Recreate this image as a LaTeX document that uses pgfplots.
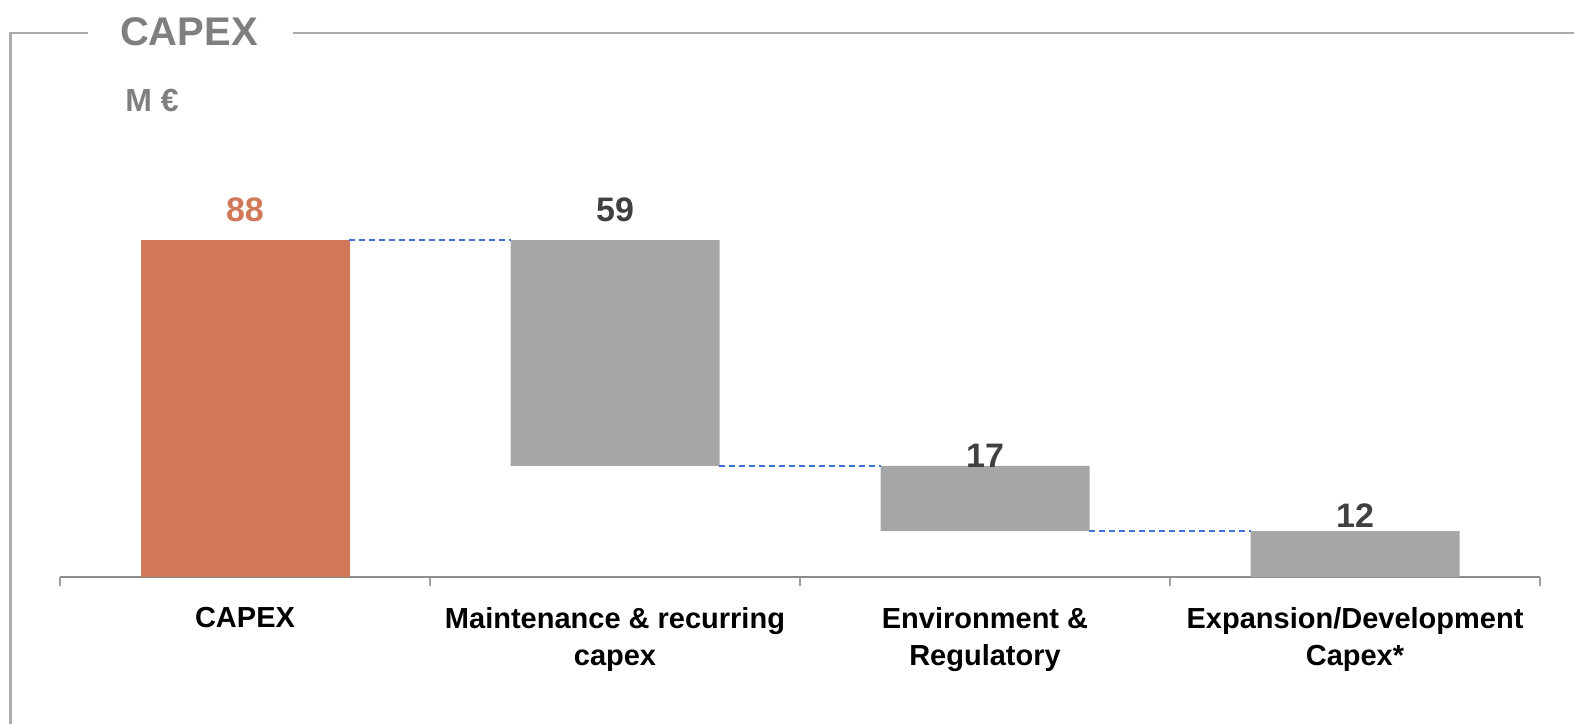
\documentclass[border=0pt]{standalone}
\usepackage{pgfplots}
\pgfplotsset{compat=1.18}
\usepackage{fontspec}
\setmainfont{Liberation Sans}
\definecolor{barorange}{HTML}{D07858}
\definecolor{bargray}{HTML}{A6A6A6}
\definecolor{framegray}{HTML}{ABABAB}
\definecolor{titlegray}{HTML}{7F7F7F}
\definecolor{labelgray}{HTML}{404040}
\definecolor{connblue}{HTML}{3F73D6}
\definecolor{axisgray}{HTML}{8C8C8C}
\definecolor{tickgray}{HTML}{A0A0A0}
\begin{document}
\begin{tikzpicture}
\useasboundingbox (0,0) rectangle (787pt,-361.5pt);
\draw[framegray, line width=1.3pt] (44pt,-16.5pt) -- (5.25pt,-16.5pt) -- (5.25pt,-362pt);
\draw[framegray, line width=1.3pt] (146.5pt,-16.5pt) -- (788pt,-16.5pt);
\node[anchor=center, text=titlegray, font=\fontsize{20}{24}\selectfont\bfseries] at (94.5pt,-15.75pt) {CAPEX};
\node[anchor=west, inner sep=0pt, text=titlegray, font=\fontsize{16}{19}\selectfont\bfseries] at (62.5pt,-50.25pt) {M €};

\pgfplotsset{commonaxis/.style={at={(30pt,-288.5pt)}, anchor=south west, scale only axis,
  width=740pt, height=168.5pt, xmin=-0.5, xmax=3.5, ymin=0, ymax=88, clip=false}}

\begin{axis}[commonaxis, ybar stacked, bar width=104.5pt,
  axis y line=none, axis x line*=bottom,
  x axis line style={draw=axisgray, line width=1pt},
  xtick={0,1,2,3},
  xticklabels={CAPEX,{Maintenance \& recurring\\capex},{Environment \&\\Regulatory},{Expansion/Development\\Capex*}},
  major tick length=0pt,
  minor xtick={-0.5,0.5,1.5,2.5,3.5},
  minor tick length=4.5pt, tick align=outside,
  minor tick style={draw=tickgray, line width=0.6pt},
  xticklabel style={align=center, text=black, yshift=-11.5pt,
    font=\fontsize{14.5}{18.5}\selectfont\bfseries}]
\addplot[draw=none, fill=none] coordinates {(0,0) (1,29) (2,12) (3,0)};
\addplot[draw=none, fill=barorange] coordinates {(0,88) (1,0) (2,0) (3,0)};
\addplot[draw=none, fill=bargray] coordinates {(0,0) (1,59) (2,17) (3,12)};
\end{axis}

\begin{axis}[commonaxis, hide axis]
\addplot[connblue, line width=0.7pt, dash pattern=on 3pt off 2pt] coordinates {(0.2824,88) (0.7176,88)};
\addplot[connblue, line width=0.7pt, dash pattern=on 3pt off 2pt] coordinates {(1.2824,29) (1.7176,29)};
\addplot[connblue, line width=0.7pt, dash pattern=on 3pt off 2pt] coordinates {(2.2824,12) (2.7176,12)};
\addplot[draw=none, mark=none, nodes near coords, point meta=explicit symbolic,
  nodes near coords style={anchor=center, text=barorange, font=\fontsize{17}{20}\selectfont\bfseries}]
  coordinates {(0,95.97)[88]};
\addplot[draw=none, mark=none, nodes near coords, point meta=explicit symbolic,
  nodes near coords style={anchor=center, text=labelgray, font=\fontsize{17}{20}\selectfont\bfseries}]
  coordinates {(1,95.97)[59] (2,31.6)[17] (3,15.9)[12]};
\end{axis}
\end{tikzpicture}
\end{document}
